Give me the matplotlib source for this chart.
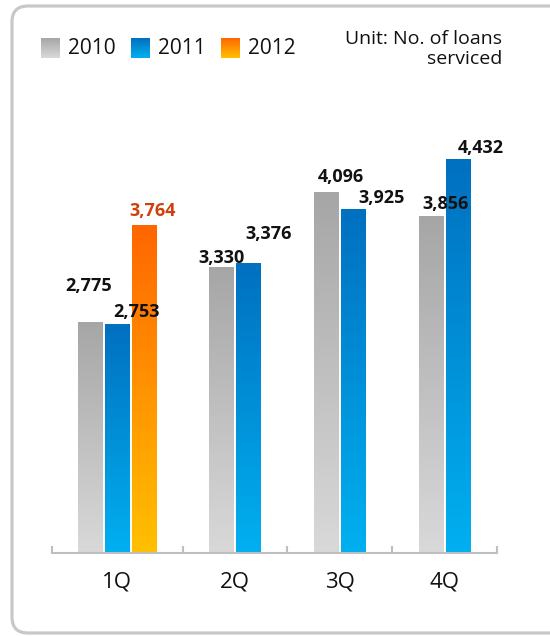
import numpy as np
import matplotlib
matplotlib.use('Agg')
import matplotlib.pyplot as plt
from matplotlib.patches import FancyBboxPatch
from matplotlib.colors import LinearSegmentedColormap

plt.rcParams['font.family'] = ['Open Sans', 'DejaVu Sans']

# ---- data ----
quarters = ['1Q', '2Q', '3Q', '4Q']
years = ['2010', '2011', '2012']
loans_2010 = [2775, 3330, 4096, 3856]
loans_2011 = [2753, 3376, 3925, 4432]
loans_2012 = [3764, None, None, None]
unit_text = 'Unit: No. of loans\nserviced'

# ---- style / layout ----
series = [loans_2010, loans_2011, loans_2012]
gradients = [('#d9d9d9', '#a6a6a6'), ('#00b0f0', '#0070c0'), ('#ffc000', '#ff6600')]
label_colors = ['#111111', '#111111', '#d0400c']
label_offsets = [  # (dx, dy) in pixels from bar top centre
    [(-2, 36), (0, 10), (15, 16), (14, 12)],
    [(19, 12), (20, 29), (28, 12), (23, 12)],
    [(8, 14), None, None, None],
]
group_widths = [1.25, 1, 1, 1]
bar_w = 0.238
bar_step = 0.257
y_bottom = 413
y_top = 5045

fig = plt.figure(figsize=(5.5, 6.36), dpi=100)

# overlay for frame and legend (pixel coordinates)
ov = fig.add_axes([0, 0, 1, 1])
ov.set_xlim(0, 550)
ov.set_ylim(636, 0)
ov.axis('off')
frame = FancyBboxPatch((12, 6), 580, 627, boxstyle='round,pad=0,rounding_size=16',
                       fc='white', ec='#c8c8c8', lw=2.3, clip_on=False, zorder=0)
ov.add_patch(frame)

ax = fig.add_axes([51.7 / 550, 83 / 636, 445.3 / 550, 453 / 636])
ax.patch.set_alpha(0)

bounds = np.concatenate([[0], np.cumsum(group_widths)])
centers = (bounds[:-1] + bounds[1:]) / 2
grad_img = np.linspace(0, 1, 256).reshape(-1, 1)
cmaps = [LinearSegmentedColormap.from_list('g%d' % i, list(g)) for i, g in enumerate(gradients)]

for qi in range(len(quarters)):
    present = [si for si in range(len(series)) if series[si][qi] is not None]
    n = len(present)
    for k, si in enumerate(present):
        v = series[si][qi]
        xc = centers[qi] + (k - (n - 1) / 2) * bar_step
        ax.imshow(grad_img, cmap=cmaps[si], origin='lower', aspect='auto',
                  extent=(xc - bar_w / 2, xc + bar_w / 2, y_bottom, v), zorder=2)
        dx, dy = label_offsets[si][qi]
        ax.annotate(f'{v:,}', xy=(xc, v), xytext=(dx, dy), textcoords='offset pixels',
                    ha='center', va='center', fontsize=13, fontweight='bold',
                    color=label_colors[si], zorder=3)

ax.set_xlim(bounds[0], bounds[-1])
ax.set_ylim(y_bottom, y_top)
for s in ['left', 'top', 'right']:
    ax.spines[s].set_visible(False)
ax.spines['bottom'].set_color('#bfbfbf')
ax.spines['bottom'].set_linewidth(1.5)
ax.set_yticks([])
ax.set_xticks(bounds)
ax.set_xticklabels([])
ax.tick_params(axis='x', which='major', direction='in', length=5, width=1.5, color='#bfbfbf')
ax.set_xticks(centers, minor=True)
ax.set_xticklabels(quarters, minor=True, fontsize=16, color='#111111')
ax.tick_params(axis='x', which='minor', length=0, pad=13)

# legend
sq_x = [41, 131, 221]
for i, y in enumerate(years):
    ov.imshow(grad_img, cmap=cmaps[i], origin='lower', aspect='auto',
              extent=(sq_x[i], sq_x[i] + 19, 58, 38), zorder=3)
    ov.text(sq_x[i] + 27, 48, y, va='center', ha='left', fontsize=15, color='#111111', zorder=3)
ov.set_xlim(0, 550)
ov.set_ylim(636, 0)

ov.text(502, 49, unit_text, ha='right', va='center', multialignment='right',
        fontsize=14, color='#111111', linespacing=1.15, zorder=3)

fig.savefig('out.png', dpi=100)
